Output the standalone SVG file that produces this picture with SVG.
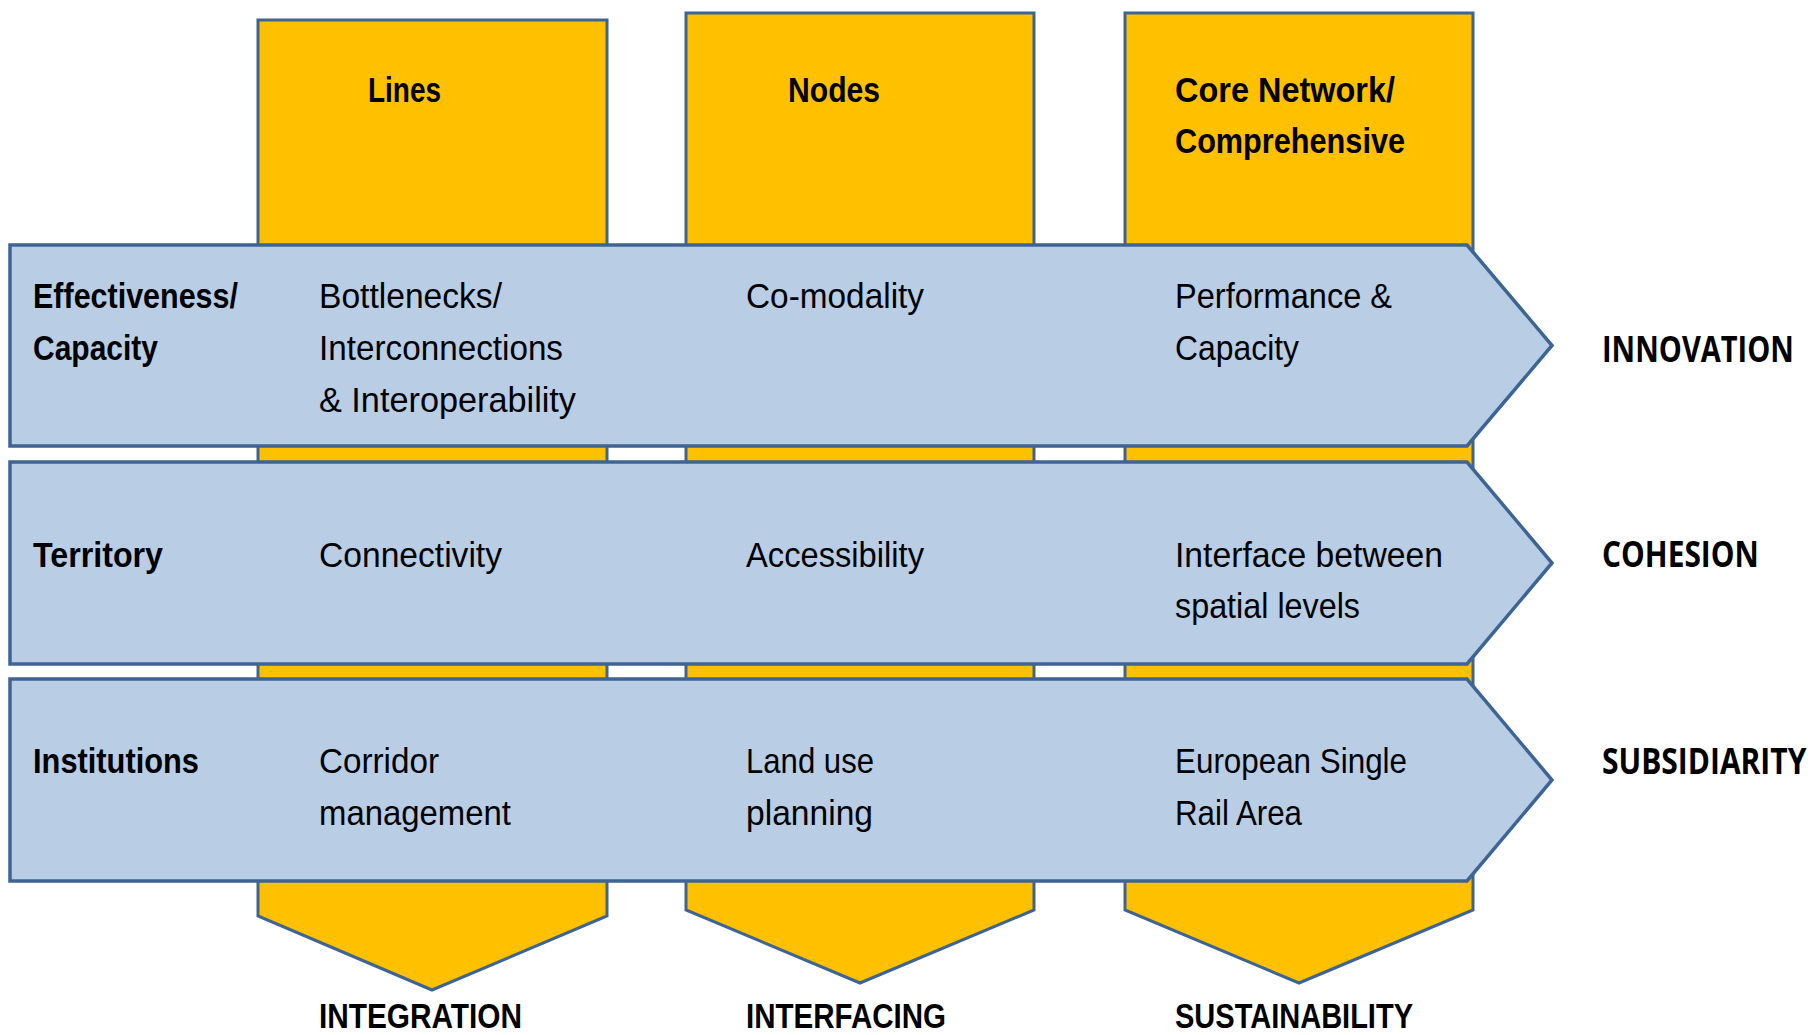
<svg xmlns="http://www.w3.org/2000/svg" width="1814" height="1035" viewBox="0 0 1814 1035">
<style>
.col{fill:#FFC000;stroke:#3E6494;stroke-width:3;stroke-linejoin:miter}
.band{fill:#B9CDE5;stroke:#3E6494;stroke-width:3.5;stroke-linejoin:miter}
text{font-family:"Liberation Sans",Arial,sans-serif;font-size:35px;fill:#000}
.b{font-weight:bold}
.lab{font-family:"Open Sans","Liberation Sans",sans-serif;font-weight:bold;font-size:35px}
</style>
<rect width="1814" height="1035" fill="#fff"/>
<g id="col-lines">
<polygon class="col" points="258,20 607,20 607,916 432,990 258,916"/>
</g>
<g id="col-nodes">
<polygon class="col" points="686,13 1034,13 1034,910 860,983 686,910"/>
</g>
<g id="col-core">
<polygon class="col" points="1125,13 1473,13 1473,910 1299,983 1125,910"/>
</g>
<g id="row-effectiveness">
<polygon class="band" points="10,245 1467,245 1552,345.5 1467,446 10,446"/>
</g>
<g id="row-territory">
<polygon class="band" points="10,462 1467,462 1552,563 1467,664 10,664"/>
</g>
<g id="row-institutions">
<polygon class="band" points="10,679 1467,679 1552,780 1467,881 10,881"/>
</g>
<g id="connectors"></g>
<g id="labels">
<text class="b" x="368" y="102" textLength="73" lengthAdjust="spacingAndGlyphs">Lines</text>
<text class="b" x="788" y="102" textLength="92" lengthAdjust="spacingAndGlyphs">Nodes</text>
<text class="b" x="1175" y="102" textLength="220" lengthAdjust="spacingAndGlyphs">Core Network/</text>
<text class="b" x="1175" y="153" textLength="230" lengthAdjust="spacingAndGlyphs">Comprehensive</text>

<text class="b" x="33" y="308" textLength="205" lengthAdjust="spacingAndGlyphs">Effectiveness/</text>
<text class="b" x="33" y="360" textLength="125" lengthAdjust="spacingAndGlyphs">Capacity</text>
<text x="319" y="308" textLength="183" lengthAdjust="spacingAndGlyphs">Bottlenecks/</text>
<text x="319" y="360" textLength="244" lengthAdjust="spacingAndGlyphs">Interconnections</text>
<text x="319" y="412" textLength="257" lengthAdjust="spacingAndGlyphs">&amp; Interoperability</text>
<text x="746" y="308" textLength="178" lengthAdjust="spacingAndGlyphs">Co-modality</text>
<text x="1175" y="308" textLength="217" lengthAdjust="spacingAndGlyphs">Performance &amp;</text>
<text x="1175" y="360" textLength="124" lengthAdjust="spacingAndGlyphs">Capacity</text>

<text class="b" x="33" y="567" textLength="130" lengthAdjust="spacingAndGlyphs">Territory</text>
<text x="319" y="567" textLength="183" lengthAdjust="spacingAndGlyphs">Connectivity</text>
<text x="746" y="567" textLength="178" lengthAdjust="spacingAndGlyphs">Accessibility</text>
<text x="1175" y="567" textLength="268" lengthAdjust="spacingAndGlyphs">Interface between</text>
<text x="1175" y="618" textLength="185" lengthAdjust="spacingAndGlyphs">spatial levels</text>

<text class="b" x="33" y="773" textLength="166" lengthAdjust="spacingAndGlyphs">Institutions</text>
<text x="319" y="773" textLength="120" lengthAdjust="spacingAndGlyphs">Corridor</text>
<text x="319" y="825" textLength="192" lengthAdjust="spacingAndGlyphs">management</text>
<text x="746" y="773" textLength="128" lengthAdjust="spacingAndGlyphs">Land use</text>
<text x="746" y="825" textLength="127" lengthAdjust="spacingAndGlyphs">planning</text>
<text x="1175" y="773" textLength="232" lengthAdjust="spacingAndGlyphs">European Single</text>
<text x="1175" y="825" textLength="127" lengthAdjust="spacingAndGlyphs">Rail Area</text>

<text class="lab" transform="translate(1602,362) scale(0.78,1)" x="0" y="0" textLength="246" lengthAdjust="spacingAndGlyphs">INNOVATION</text>
<text class="lab" transform="translate(1602,567) scale(0.78,1)" x="0" y="0" textLength="201" lengthAdjust="spacingAndGlyphs">COHESION</text>
<text class="lab" transform="translate(1602,774) scale(0.78,1)" x="0" y="0" textLength="262" lengthAdjust="spacingAndGlyphs">SUBSIDIARITY</text>

<text class="b" x="319" y="1028" textLength="203" lengthAdjust="spacingAndGlyphs">INTEGRATION</text>
<text class="b" x="746" y="1028" textLength="200" lengthAdjust="spacingAndGlyphs">INTERFACING</text>
<text class="b" x="1175" y="1028" textLength="238" lengthAdjust="spacingAndGlyphs">SUSTAINABILITY</text>
</g>
</svg>
